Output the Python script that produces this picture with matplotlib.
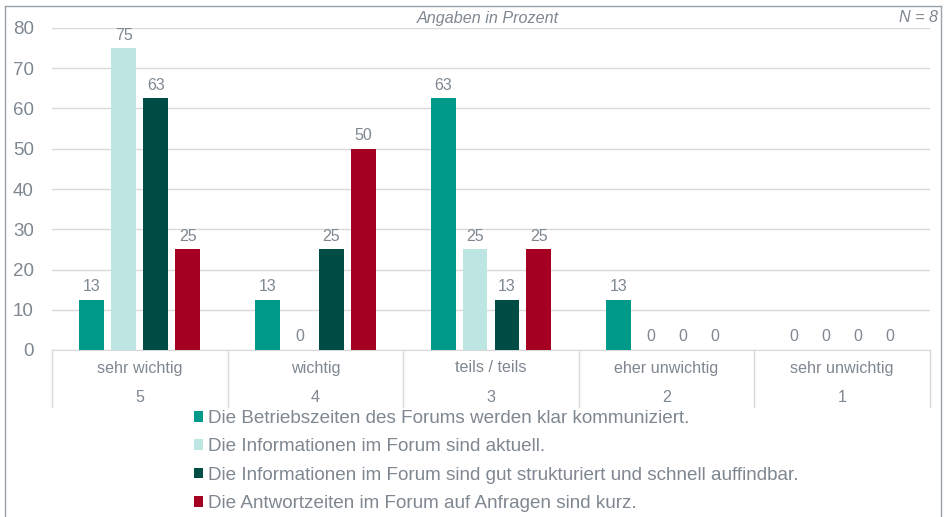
import matplotlib.pyplot as plt
from matplotlib.patches import Patch
from matplotlib.lines import Line2D
from matplotlib import transforms

plt.rcParams['font.family'] = ['Liberation Sans', 'DejaVu Sans']

categories = ['sehr wichtig', 'wichtig', 'teils / teils', 'eher unwichtig', 'sehr unwichtig']
codes = ['5', '4', '3', '2', '1']
series_names = [
    'Die Betriebszeiten des Forums werden klar kommuniziert.',
    'Die Informationen im Forum sind aktuell.',
    'Die Informationen im Forum sind gut strukturiert und schnell auffindbar.',
    'Die Antwortzeiten im Forum auf Anfragen sind kurz.',
]
betriebszeiten = [12.5, 12.5, 62.5, 12.5, 0]
aktuell = [75, 0, 25, 0, 0]
strukturiert = [62.5, 25, 12.5, 0, 0]
antwortzeiten = [25, 50, 25, 0, 0]
series = [betriebszeiten, aktuell, strukturiert, antwortzeiten]
colors = ['#009A8A', '#BDE5E1', '#004D45', '#A50021']

txt = '#7F8790'
grid = '#D9D9D9'

fig = plt.figure(figsize=(9.47, 5.17), dpi=100)
ax = fig.add_axes([52 / 947, 1 - 350 / 517, (930 - 52) / 947, (350 - 28) / 517])

step = 0.182
width = 0.142
for i, (vals, col) in enumerate(zip(series, colors)):
    xs = [k + (i - 1.5) * step for k in range(len(categories))]
    ax.bar(xs, vals, width=width, color=col, zorder=3)
    for x, v in zip(xs, vals):
        # Excel-style rounding (12.5 -> 13)
        ax.annotate(str(int(v + 0.5)), (x, v), xytext=(0, 4), textcoords='offset points',
                    ha='center', va='bottom', fontsize=11.5, color=txt)

ax.set_xlim(-0.5, len(categories) - 0.5)
ax.set_ylim(0, 80)
ax.set_yticks(range(0, 81, 10))
ax.yaxis.grid(True, color=grid, linewidth=1, zorder=0)
ax.tick_params(axis='y', length=0, labelsize=13.5, labelcolor=txt, pad=13)
ax.set_xticks([])
for s in ['left', 'right', 'top']:
    ax.spines[s].set_visible(False)
ax.spines['bottom'].set_color(grid)

# category boxes under the axis
trans = transforms.blended_transform_factory(ax.transData, ax.transAxes)
for k in range(len(categories) + 1):
    ax.add_line(Line2D([k - 0.5, k - 0.5], [0, -57 / 322], transform=trans,
                       color=grid, linewidth=1, clip_on=False))
for k, (c, n) in enumerate(zip(categories, codes)):
    ax.text(k, -18 / 322, c, transform=trans, ha='center', va='center', fontsize=11.6, color=txt)
    ax.text(k, -47 / 322, n, transform=trans, ha='center', va='center', fontsize=11.6, color=txt)

fig.text(488 / 947, 1 - 18 / 517, 'Angaben in Prozent', ha='center', va='center',
         fontsize=11.6, style='italic', color=txt)
fig.text(938 / 947, 1 - 18 / 517, 'N = 8', ha='right', va='center',
         fontsize=11.6, style='italic', color=txt)

handles = [Patch(facecolor=c, edgecolor='none') for c in colors]
leg = fig.legend(handles, series_names, loc='upper left',
                 bbox_to_anchor=(194 / 947, 1 - 410 / 517), frameon=False,
                 fontsize=13.6, handlelength=0.5, handleheight=0.5, handletextpad=0.25,
                 labelspacing=0.6, borderpad=0, borderaxespad=0)
for t in leg.get_texts():
    t.set_color(txt)

# outer frame
bc = '#9AA1A7'
x0, x1, y0 = 5 / 947, 941 / 947, 1 - 6 / 517
for xs, ys in [([x0, x1], [y0, y0]), ([x0, x0], [y0, -0.1]), ([x1, x1], [y0, -0.1])]:
    fig.add_artist(Line2D(xs, ys, transform=fig.transFigure, color=bc, linewidth=1))

fig.savefig('out.png', dpi=100)
